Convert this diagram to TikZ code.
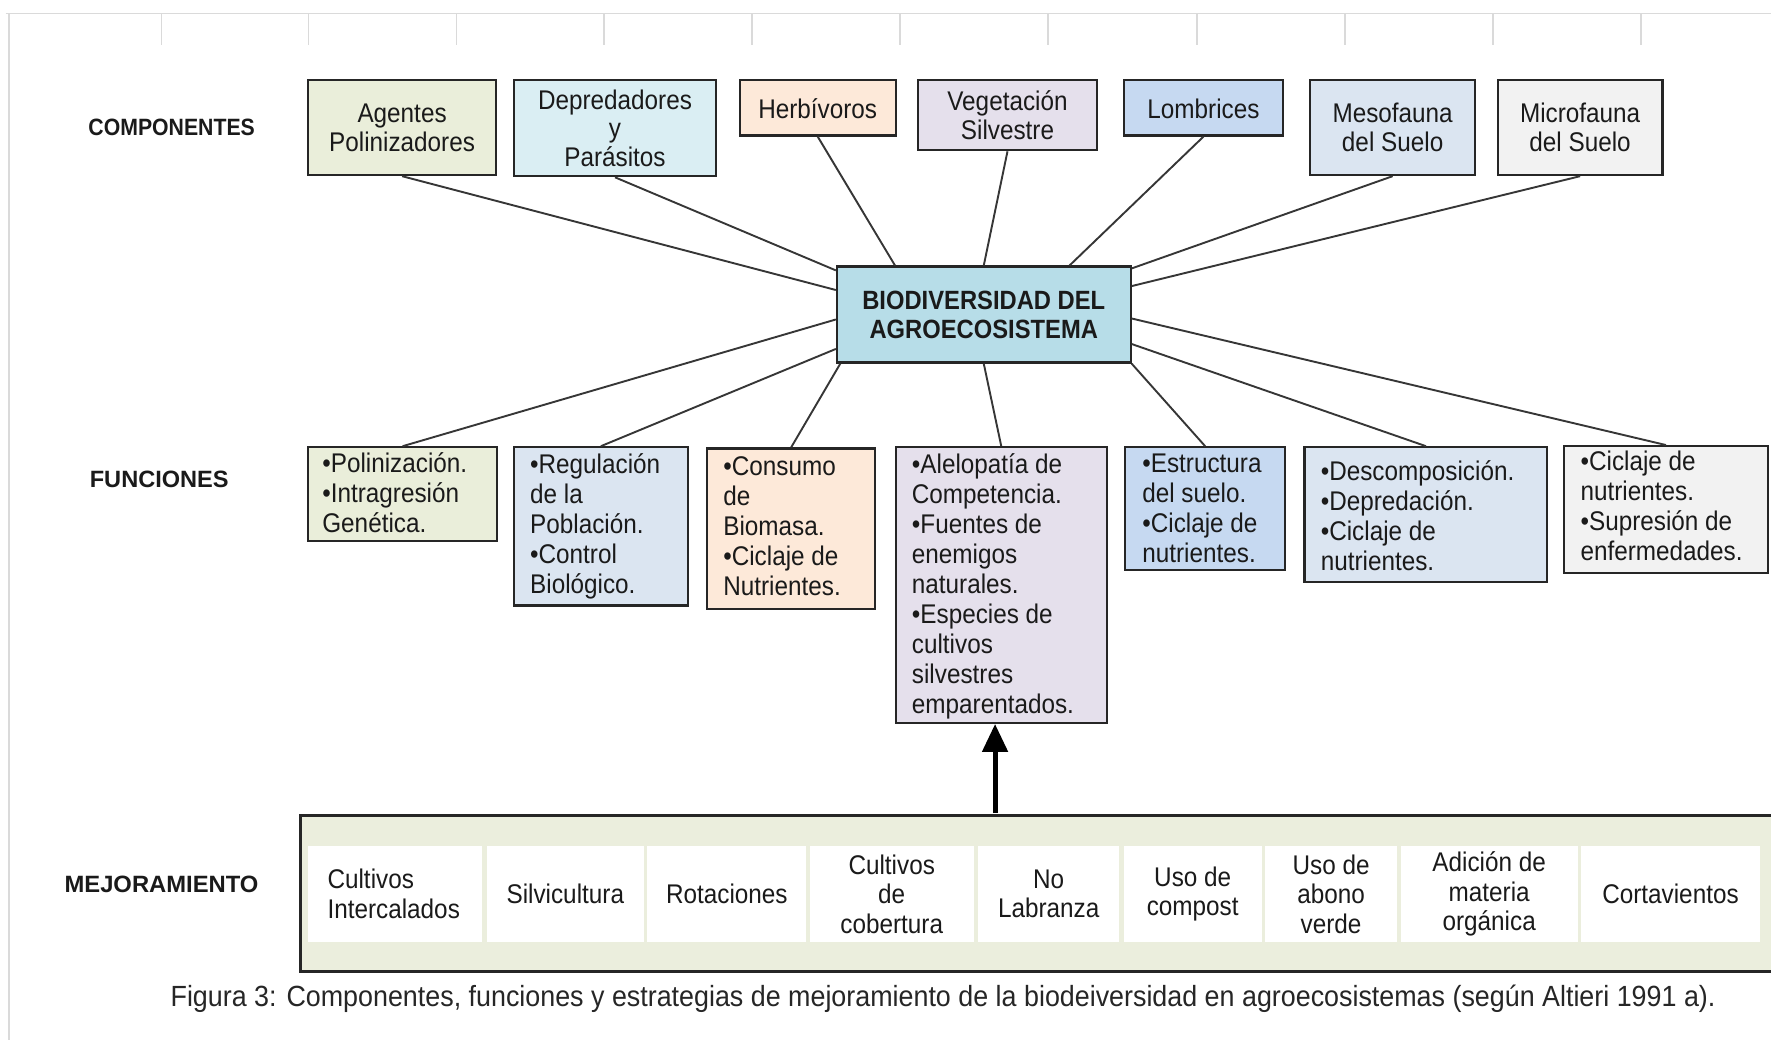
\documentclass[tikz,border=0pt]{standalone}
\usepackage{fontspec}
\usepackage{graphicx}
\setmainfont{Liberation Sans}[FakeStretch=0.9]
\newfontfamily\capfont{Liberation Sans}[FakeStretch=0.92]
\usetikzlibrary{fit,calc,arrows.meta}
\definecolor{cA}{HTML}{EAEEDA}
\definecolor{cB}{HTML}{DAEEF3}
\definecolor{cC}{HTML}{FDE9D9}
\definecolor{cD}{HTML}{E5E0EC}
\definecolor{cE}{HTML}{C6D9F1}
\definecolor{cF}{HTML}{DBE5F1}
\definecolor{cG}{HTML}{F2F2F2}
\definecolor{cBio}{HTML}{B7DDE8}
\definecolor{cM}{HTML}{EBEEDD}
\definecolor{boxline}{HTML}{262626}
\definecolor{connc}{HTML}{363636}
\definecolor{txt}{HTML}{1A1A1A}
\definecolor{frame}{HTML}{DADADA}
\begin{document}
\begin{tikzpicture}[x=0.56475pt,y=-0.56475pt,
  box/.style={draw=boxline,line width=1.1pt,inner sep=0pt},
  cell/.style={fill=white,inner sep=0pt},
  conn/.style={draw=connc,line width=0.95pt},
  ctext/.style={align=center,inner sep=0pt,text=txt,font=\fontsize{13.5}{14.4}\selectfont},
  ftext/.style={align=left,anchor=north west,inner sep=0pt,text=txt,font=\fontsize{13.5}{15}\selectfont},
  mtext/.style={align=center,inner sep=0pt,text=txt,font=\fontsize{13.5}{14.7}\selectfont},
  lab/.style={inner sep=0pt,text=txt,font=\fontsize{11.8}{14}\selectfont\bfseries},
  bigarrow/.style={line width=2.5pt,-{Triangle[length=14pt,width=12.5pt]}}
]
\useasboundingbox (0,0) rectangle (1568,921);
% frame
\draw[frame,line width=0.8pt] (5,12) -- (1568,12);
\draw[frame,line width=0.8pt] (8,12) -- (8,921);
\foreach \t in {143,273,404,535,666,797,928,1060,1191,1322,1453}
  \draw[frame,line width=0.8pt] (\t,12) -- (\t,40);

% labels
\node[lab] (lcomp) at (152,113) {COMPONENTES};
\node[lab] (lfunc) at (141,424) {\scalebox{1.11}[1]{FUNCIONES}};
\node[lab] (lmej) at (143,783) {\scalebox{1.12}[1]{MEJORAMIENTO}};

% components
\node[box,fill=cA,fit={(273,71)(439,155)}] (c1) {};
\node[ctext] (c1t) at (c1.center) {Agentes\\Polinizadores};
\node[box,fill=cB,fit={(455,71)(634,156)}] (c2) {};
\node[ctext] (c2t) at (c2.center) {Depredadores\\y\\Parásitos};
\node[box,fill=cC,fit={(655,71)(793,120)}] (c3) {};
\node[ctext] (c3t) at ($(c3.center)+(0,1)$) {Herbívoros};
\node[box,fill=cD,fit={(813,71)(971,133)}] (c4) {};
\node[ctext] (c4t) at (c4.center) {Vegetación\\Silvestre};
\node[box,fill=cE,fit={(995,71)(1136,120)}] (c5) {};
\node[ctext] (c5t) at ($(c5.center)+(0,1)$) {Lombrices};
\node[box,fill=cF,fit={(1160,71)(1306,155)}] (c6) {};
\node[ctext] (c6t) at (c6.center) {Mesofauna\\del Suelo};
\node[box,fill=cG,fit={(1326,71)(1472,155)}] (c7) {};
\node[ctext] (c7t) at (c7.center) {Microfauna\\del Suelo};

% central
\node[box,fill=cBio,fit={(741,236)(1001,321)}] (bio) {};
\node[ctext,font=\fontsize{13.2}{14.6}\selectfont\bfseries] (biot) at (bio.center) {BIODIVERSIDAD DEL\\AGROECOSISTEMA};

% functions
\node[box,fill=cA,fit={(273,396)(440,479)}] (f1) {};
\node[ftext] (f1t) at ($(f1.north west)+(13,4)$) {\strut•Polinización.\\•Intragresión\\Genética.};
\node[box,fill=cF,fit={(455,396)(609,536)}] (f2) {};
\node[ftext] (f2t) at ($(f2.north west)+(15,5)$) {\strut•Regulación\\de la\\Población.\\•Control\\Biológico.};
\node[box,fill=cC,fit={(626,397)(775,539)}] (f3) {};
\node[ftext] (f3t) at ($(f3.north west)+(15,6)$) {\strut•Consumo\\de\\Biomasa.\\•Ciclaje de\\Nutrientes.};
\node[box,fill=cD,fit={(793,396)(980,640)}] (f4) {};
\node[ftext] (f4t) at ($(f4.north west)+(15,5)$) {\strut•Alelopatía de\\Competencia.\\•Fuentes de\\enemigos\\naturales.\\•Especies de\\cultivos\\silvestres\\emparentados.};
\node[box,fill=cE,fit={(996,396)(1138,505)}] (f5) {};
\node[ftext] (f5t) at ($(f5.north west)+(16,4)$) {\strut•Estructura\\del suelo.\\•Ciclaje de\\nutrientes.};
\node[box,fill=cF,fit={(1155,396)(1370,515)}] (f6) {};
\node[ftext] (f6t) at ($(f6.north west)+(15,11)$) {\strut•Descomposición.\\•Depredación.\\•Ciclaje de\\nutrientes.};
\node[box,fill=cG,fit={(1385,395)(1565,507)}] (f7) {};
\node[ftext] (f7t) at ($(f7.north west)+(15,4)$) {\strut•Ciclaje de\\nutrientes.\\•Supresión de\\enfermedades.};

% connectors top
\draw[conn] (c1.south) -- ($(bio.north west)!0.25!(bio.south west)$);
\draw[conn] (c2.south) -- ($(bio.north west)!0.05!(bio.south west)$);
\draw[conn] (c3.south) -- ($(bio.north west)!0.2!(bio.north east)$);
\draw[conn] (c4.south) -- ($(bio.north west)!0.5!(bio.north east)$);
\draw[conn] (c5.south) -- ($(bio.north west)!0.79!(bio.north east)$);
\draw[conn] (c6.south) -- ($(bio.north east)!0.03!(bio.south east)$);
\draw[conn] (c7.south) -- ($(bio.north east)!0.21!(bio.south east)$);
% connectors bottom
\draw[conn] (f1.north) -- ($(bio.north west)!0.55!(bio.south west)$);
\draw[conn] (f2.north) -- ($(bio.north west)!0.85!(bio.south west)$);
\draw[conn] (f3.north) -- ($(bio.south west)!0.015!(bio.south east)$);
\draw[conn] (f4.north) -- ($(bio.south west)!0.5!(bio.south east)$);
\draw[conn] (f5.north) -- (bio.south east);
\draw[conn] (f6.north) -- ($(bio.north east)!0.8!(bio.south east)$);
\draw[conn] (f7.north) -- ($(bio.north east)!0.54!(bio.south east)$);

% mejoramiento
\node[box,fill=cM,line width=1.3pt,fit={(266,722)(1590,860)}] (mej) {};
\node[cell,fit={(273,749)(427,834)}] (m1) {};
\node[mtext,align=left,anchor=west] (m1t) at ($(m1.west)+(17,0)$) {Cultivos\\Intercalados};
\node[cell,fit={(431,749)(570,834)}] (m2) {};
\node[mtext] (m2t) at (m2.center) {Silvicultura};
\node[cell,fit={(573,749)(714,834)}] (m3) {};
\node[mtext] (m3t) at (m3.center) {Rotaciones};
\node[cell,fit={(717,749)(862,834)}] (m4) {};
\node[mtext] (m4t) at (m4.center) {Cultivos\\de\\cobertura};
\node[cell,fit={(866,749)(991,834)}] (m5) {};
\node[mtext] (m5t) at (m5.center) {No\\Labranza};
\node[cell,fit={(995,749)(1117,834)}] (m6) {};
\node[mtext] (m6t) at (m6.center) {Uso de\\compost};
\node[cell,fit={(1120,749)(1237,834)}] (m7) {};
\node[mtext] (m7t) at (m7.center) {Uso de\\abono\\verde};
\node[cell,fit={(1240,749)(1397,834)}] (m8) {};
\node[mtext] (m8t) at (m8.center) {Adición de\\materia\\orgánica};
\node[cell,fit={(1400,749)(1558,834)}] (m9) {};
\node[mtext] (m9t) at (m9.center) {Cortavientos};

% arrow
\coordinate (arrtail) at (881,720);
\draw[bigarrow] (arrtail) -- (arrtail |- f4.south);

% caption
\node[inner sep=0pt,text=black!85,font=\capfont\fontsize{14.6}{16}\selectfont] (cap) at (835,884) {Figura 3: Componentes, funciones y estrategias de mejoramiento de la biodeiversidad en agroecosistemas (según Altieri 1991 a).};
\end{tikzpicture}
\end{document}
